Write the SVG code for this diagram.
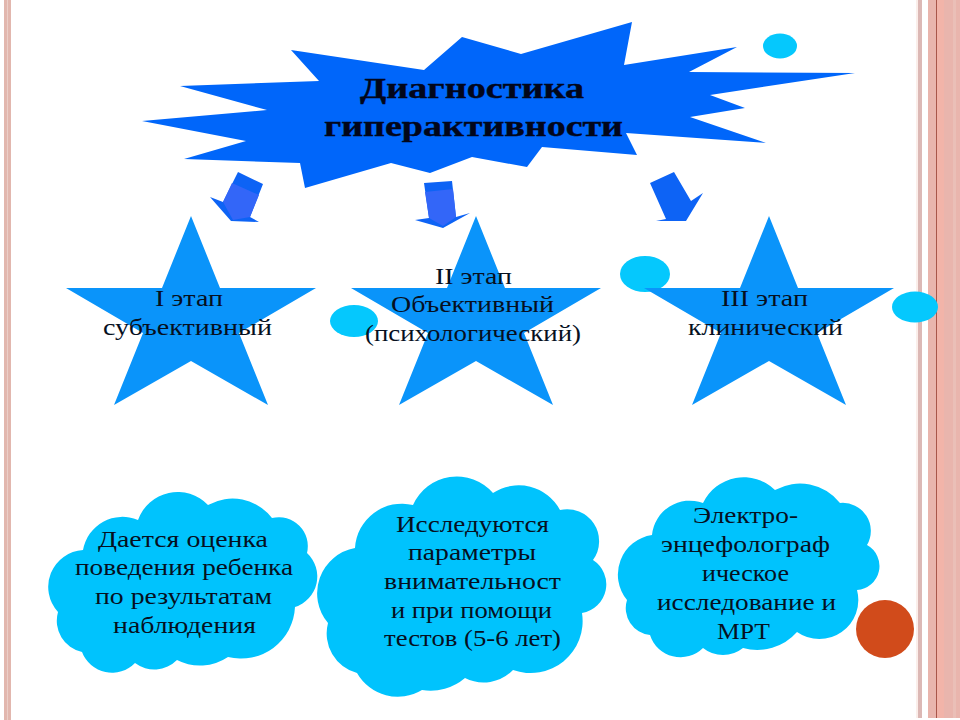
<svg xmlns="http://www.w3.org/2000/svg" width="960" height="720" viewBox="0 0 960 720">
<style>
text{font-family:"Liberation Serif","DejaVu Serif",serif;fill:#06101f;text-anchor:start}
.t{font-size:23px}
.h{font-size:30px;font-weight:bold;fill:#02061a;stroke:#02061a;stroke-width:.4}
.star{fill:#0a94fa}
.cloud{fill:#00c3fd}
.blob{fill:#05c8fd}
.ar{fill:#0d63f5}
.am{fill:#3366f8}
</style>
<rect width="960" height="720" fill="#fff"/>
<g id="decor">
<rect x="4" y="0" width="7" height="720" fill="#e2b7ae"/>
<rect x="7" y="0" width="1" height="720" fill="#eccfc8"/>
<rect x="916" y="0" width="2" height="718" fill="#fbeeea"/>
<rect x="918" y="0" width="4" height="718" fill="#dcb8b5"/>
<rect x="928" y="0" width="32" height="718" fill="#e9b5ad"/>
<rect x="936" y="0" width="1" height="718" fill="#a8564a"/>
<rect x="937" y="0" width="7" height="718" fill="#f2b4a9"/>
<rect x="953" y="0" width="3" height="718" fill="#eabfb7"/>
<circle cx="885" cy="629" r="29" fill="#d14b1b"/>
<ellipse cx="780" cy="46" rx="17" ry="12.5" class="blob"/>
<ellipse cx="354" cy="321" rx="24" ry="16" class="blob"/>
<ellipse cx="645" cy="274" rx="25" ry="18" class="blob"/>
<ellipse cx="915" cy="307" rx="23" ry="15.5" class="blob"/>
</g>
<g id="connectors">
<g id="arrow1">
<polygon class="ar" points="238,172 263,184 250,217 259,222 231,221 210,197 223,202"/>
<polygon class="am" points="232,183 259,195 250,217 233,220 223,202"/>
</g>
<g id="arrow2">
<polygon class="ar" points="424,183 452,181 456,217 470,213 443,228 415,220 429,218"/>
<polygon class="am" points="425,192 453,189 456,217 443,226 429,218"/>
</g>
<g id="arrow3">
<polygon class="ar" points="674,172 650,183 666,219 656,221 686,221 703,193 691,201"/>
</g>
</g>
<g id="burst">
<polygon fill="#0066fa" points="291,50 319,81 180,86 267,110 142,121 246,141 184,159 300,163 305,188 391,163 430,173 472,157 527,167 542,147 637,155 626,133 766,143 690,117 745,108 710,95 855,73 689,72 737,47 624,65 632,22 521,54 462,37 424,70"/>
<text class="h" x="360" y="98" textLength="224" lengthAdjust="spacingAndGlyphs">Диагностика</text>
<text class="h" x="324" y="136" textLength="299" lengthAdjust="spacingAndGlyphs">гиперактивности</text>
</g>
<g id="star1">
<polygon class="star" points="191,216 220,288 316,288 239,333 268,405 191,361 114,405 143,333 66,288 162,288"/>
<text class="t" x="155" y="306" textLength="68" lengthAdjust="spacingAndGlyphs">I этап</text>
<text class="t" x="103" y="335" textLength="169" lengthAdjust="spacingAndGlyphs">субъективный</text>
</g>
<g id="star2">
<polygon class="star" points="476,216 505,288 601,288 524,333 553,405 476,361 399,405 428,333 351,288 447,288"/>
<text class="t" x="435" y="284" textLength="77" lengthAdjust="spacingAndGlyphs">II этап</text>
<text class="t" x="391" y="312" textLength="163" lengthAdjust="spacingAndGlyphs">Объективный</text>
<text class="t" x="365" y="341" textLength="216" lengthAdjust="spacingAndGlyphs">(психологический)</text>
</g>
<g id="star3">
<polygon class="star" points="769,216 798,288 894,288 817,333 846,405 769,361 692,405 721,333 644,288 740,288"/>
<text class="t" x="721" y="306" textLength="87" lengthAdjust="spacingAndGlyphs">III этап</text>
<text class="t" x="688" y="335" textLength="155" lengthAdjust="spacingAndGlyphs">клинический</text>
</g>
<g id="cloud1">
<path class="cloud" d="M83,550A40,40 0 0 1 138,520A42,42 0 0 1 208,505A50,50 0 0 1 272,518A29,29 0 0 1 307,553A32,32 0 0 1 295,607A54,54 0 0 1 228,657A50,50 0 0 1 177,660A32,32 0 0 1 135,663A32,32 0 0 1 82,652A32,32 0 0 1 58,612A37,37 0 0 1 83,550Z"/>
<text class="t" x="98" y="547" textLength="170" lengthAdjust="spacingAndGlyphs">Дается оценка</text>
<text class="t" x="75" y="575" textLength="218" lengthAdjust="spacingAndGlyphs">поведения ребенка</text>
<text class="t" x="95" y="604" textLength="177" lengthAdjust="spacingAndGlyphs">по результатам</text>
<text class="t" x="113" y="633" textLength="143" lengthAdjust="spacingAndGlyphs">наблюдения</text>
</g>
<g id="cloud2">
<path class="cloud" d="M355,548A47,47 0 0 1 413,505A48,48 0 0 1 493,493A47,47 0 0 1 560,510A32,32 0 0 1 593,560A29,29 0 0 1 582,613A52,52 0 0 1 513,670A41,41 0 0 1 465,678A53,53 0 0 1 422,690A47,47 0 0 1 357,673A41,41 0 0 1 328,623A46,46 0 0 1 355,548Z"/>
<text class="t" x="396" y="532" textLength="153" lengthAdjust="spacingAndGlyphs">Исследуются</text>
<text class="t" x="408" y="560" textLength="128" lengthAdjust="spacingAndGlyphs">параметры</text>
<text class="t" x="384" y="589" textLength="177" lengthAdjust="spacingAndGlyphs">внимательност</text>
<text class="t" x="391" y="618" textLength="161" lengthAdjust="spacingAndGlyphs">и при помощи</text>
<text class="t" x="384" y="646" textLength="177" lengthAdjust="spacingAndGlyphs">тестов (5-6 лет)</text>
</g>
<g id="cloud3">
<path class="cloud" d="M652,535A38,38 0 0 1 703,503A45,45 0 0 1 775,490A51,51 0 0 1 840,503A28,28 0 0 1 867,545A24,24 0 0 1 857,590A39,39 0 0 1 797,632A53,53 0 0 1 743,648A32,32 0 0 1 703,648A32,32 0 0 1 650,635A27,27 0 0 1 627,600A40,40 0 0 1 652,535Z"/>
<text class="t" x="693" y="523" textLength="105" lengthAdjust="spacingAndGlyphs">Электро-</text>
<text class="t" x="661" y="552" textLength="169" lengthAdjust="spacingAndGlyphs">энцефолограф</text>
<text class="t" x="702" y="581" textLength="87" lengthAdjust="spacingAndGlyphs">ическое</text>
<text class="t" x="657" y="610" textLength="179" lengthAdjust="spacingAndGlyphs">исследование и</text>
<text class="t" x="717" y="639" textLength="53" lengthAdjust="spacingAndGlyphs">МРТ</text>
</g>
</svg>
